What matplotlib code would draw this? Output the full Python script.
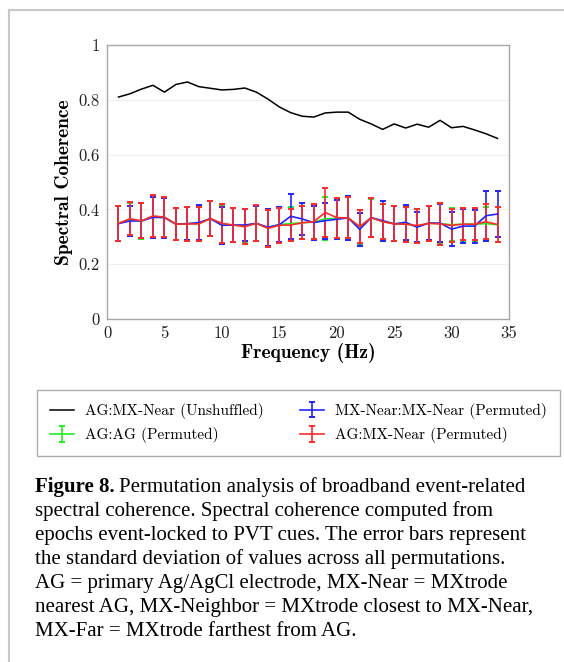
import numpy as np
import matplotlib
matplotlib.use("Agg")
import matplotlib.pyplot as plt
from matplotlib.lines import Line2D
from matplotlib.ticker import FixedLocator, FuncFormatter

plt.rcParams['font.family'] = 'serif'
plt.rcParams['font.serif'] = ['cmr10']
plt.rcParams['mathtext.fontset'] = 'cm'
plt.rcParams['axes.unicode_minus'] = False

# data
freq = np.arange(1, 35)
unshuffled = [0.810, 0.822, 0.839, 0.853, 0.828, 0.856, 0.865, 0.848, 0.842, 0.836,
              0.838, 0.843, 0.828, 0.803, 0.774, 0.753, 0.740, 0.737, 0.752, 0.755,
              0.755, 0.729, 0.712, 0.692, 0.712, 0.697, 0.711, 0.700, 0.725, 0.698,
              0.703, 0.690, 0.676, 0.659]

agag = [0.350, 0.362, 0.358, 0.374, 0.371, 0.347, 0.348, 0.349, 0.366, 0.346,
        0.343, 0.340, 0.349, 0.333, 0.345, 0.348, 0.352, 0.353, 0.366, 0.367,
        0.369, 0.335, 0.370, 0.356, 0.348, 0.348, 0.338, 0.350, 0.348, 0.344,
        0.346, 0.346, 0.348, 0.344]
agag_err = [0.064, 0.060, 0.065, 0.073, 0.072, 0.058, 0.061, 0.061, 0.064, 0.068,
            0.061, 0.063, 0.065, 0.068, 0.063, 0.061, 0.061, 0.062, 0.078, 0.072,
            0.075, 0.061, 0.069, 0.064, 0.063, 0.064, 0.062, 0.064, 0.074, 0.060,
            0.060, 0.060, 0.062, 0.063]

mxmx = [0.348, 0.358, 0.358, 0.371, 0.370, 0.346, 0.348, 0.352, 0.366, 0.342,
        0.343, 0.343, 0.349, 0.335, 0.344, 0.375, 0.365, 0.352, 0.359, 0.364,
        0.369, 0.327, 0.370, 0.359, 0.347, 0.353, 0.335, 0.350, 0.350, 0.328,
        0.339, 0.339, 0.377, 0.383]
mxmx_err = [0.065, 0.056, 0.064, 0.074, 0.073, 0.058, 0.061, 0.064, 0.064, 0.067,
            0.061, 0.060, 0.064, 0.067, 0.063, 0.083, 0.060, 0.062, 0.066, 0.072,
            0.079, 0.061, 0.070, 0.073, 0.064, 0.063, 0.054, 0.063, 0.068, 0.061,
            0.061, 0.060, 0.091, 0.085]

agmx = [0.349, 0.366, 0.358, 0.376, 0.372, 0.346, 0.347, 0.347, 0.367, 0.349,
        0.343, 0.337, 0.349, 0.331, 0.342, 0.343, 0.351, 0.355, 0.389, 0.370,
        0.369, 0.337, 0.370, 0.355, 0.347, 0.346, 0.341, 0.349, 0.347, 0.342,
        0.346, 0.346, 0.355, 0.345]
agmx_err = [0.065, 0.061, 0.064, 0.076, 0.073, 0.058, 0.061, 0.061, 0.064, 0.070,
            0.061, 0.063, 0.066, 0.068, 0.063, 0.060, 0.060, 0.063, 0.088, 0.073,
            0.075, 0.060, 0.070, 0.063, 0.064, 0.064, 0.062, 0.063, 0.077, 0.061,
            0.059, 0.059, 0.064, 0.063]

caption = [
    "spectral coherence. Spectral coherence computed from",
    "epochs event-locked to PVT cues. The error bars represent",
    "the standard deviation of values across all permutations.",
    "AG = primary Ag/AgCl electrode, MX-Near = MXtrode",
    "nearest AG, MX-Neighbor = MXtrode closest to MX-Near,",
    "MX-Far = MXtrode farthest from AG.",
]

W, H = 564, 662
fig = plt.figure(figsize=(W / 100, H / 100), dpi=100)
ax = fig.add_axes([107 / W, 1 - 319 / H, 402 / W, 274 / H])

ax.plot(freq, unshuffled, color='black', lw=1.1, label='AG:MX-Near (Unshuffled)')
ax.errorbar(freq, agag, yerr=agag_err, color='#22ee22', lw=1.2, elinewidth=1.2,
            capsize=2, capthick=1.4, label='AG:AG (Permuted)')
ax.errorbar(freq, mxmx, yerr=mxmx_err, color='#2222ff', lw=1.2, elinewidth=1.2,
            capsize=2, capthick=1.4, label='MX-Near:MX-Near (Permuted)')
ax.errorbar(freq, agmx, yerr=agmx_err, color='#ff2a2a', lw=1.2, elinewidth=1.2,
            capsize=2, capthick=1.4, label='AG:MX-Near (Permuted)')

ax.set_xlim(0, 35)
ax.set_ylim(0, 1)
ax.xaxis.set_major_locator(FixedLocator(np.arange(0, 36, 5)))
ax.yaxis.set_major_locator(FixedLocator([0, 0.2, 0.4, 0.6, 0.8, 1.0]))
ax.yaxis.set_major_formatter(FuncFormatter(lambda v, p: '%g' % v))
ax.tick_params(length=0, labelsize=12, colors='#222222', pad=5)
ax.grid(axis='y', color='#f0f0f0', lw=0.9)
ax.set_axisbelow(True)
for s in ax.spines.values():
    s.set_color('#a8a8a8')
    s.set_linewidth(1.0)

ax.set_xlabel('Frequency (Hz)', fontsize=14, family='cmb10', labelpad=1)
ax.set_ylabel('Spectral Coherence', fontsize=14, family='cmb10', labelpad=4)

handles, labels = ax.get_legend_handles_labels()
leg = fig.legend(handles, labels, ncol=2, loc='upper left',
                 bbox_to_anchor=(37 / W, 1 - 455 / H, 523 / W, 65 / H),
                 mode='expand', fontsize=11, frameon=True, fancybox=False,
                 edgecolor='#999999', handlelength=1.6, borderaxespad=0,
                 borderpad=0.85, labelspacing=0.55, handletextpad=0.7)
leg.get_frame().set_linewidth(1.0)

# outer panel frame
fig.add_artist(Line2D([9 / W, 9 / W], [0, 1 - 10 / H], color='#c8c8c8', lw=1.5,
                      transform=fig.transFigure))
fig.add_artist(Line2D([9 / W, 1], [1 - 10 / H, 1 - 10 / H], color='#c8c8c8', lw=1.5,
                      transform=fig.transFigure))

# caption
cap_font = dict(family='Liberation Serif', fontsize=15, color='black', va='baseline')
x0 = 35 / W
t = fig.text(x0, 1 - 492 / H, 'Figure 8.', fontweight='bold', **cap_font)
fig.canvas.draw()
bb = t.get_window_extent()
fig.text(bb.x1 / W + 4 / W, 1 - 492 / H, 'Permutation analysis of broadband event-related',
         **cap_font)
for i, line in enumerate(caption):
    fig.text(x0, 1 - (516 + 24 * i) / H, line, **cap_font)

fig.savefig('out.png', dpi=100)
